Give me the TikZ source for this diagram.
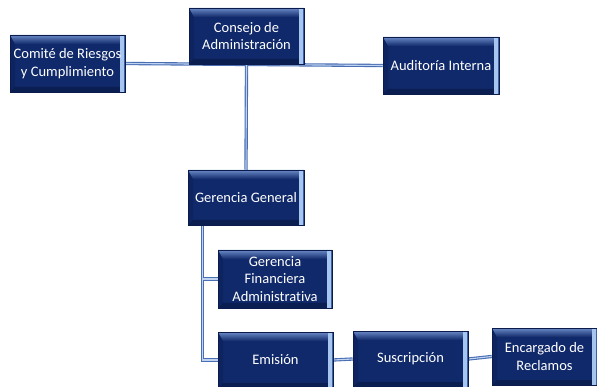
\documentclass[tikz,border=0pt]{standalone}
\usepackage{fontspec}
\setmainfont{Carlito}[Ligatures={NoCommon}]
\usetikzlibrary{backgrounds,calc}
\definecolor{navy}{HTML}{10296A}
\definecolor{bevtop}{HTML}{6A89C6}
\definecolor{bevright}{HTML}{A6C6F0}
\definecolor{bevbot}{HTML}{0A1E52}
\definecolor{bevleft}{HTML}{0D2460}
\definecolor{edge}{HTML}{0B1C4C}
\definecolor{linecol}{HTML}{4A6EB4}
\definecolor{lineinner}{HTML}{BFD2F0}
\tikzset{
  x=1pt, y=-1pt,
  orgbox/.style={fill=navy, draw=edge, line width=0.5pt, text=white, align=center,
    inner sep=0pt, font=\fontsize{14.5}{17.5}\selectfont,
    path picture={
      \fill[bevleft] (path picture bounding box.north west) -- ([xshift=5pt,yshift=-7pt]path picture bounding box.north west)
        -- ([xshift=5pt,yshift=5pt]path picture bounding box.south west) -- (path picture bounding box.south west) -- cycle;
      \fill[bevbot] (path picture bounding box.south west) -- ([xshift=5pt,yshift=5pt]path picture bounding box.south west)
        -- ([xshift=-5pt,yshift=5pt]path picture bounding box.south east) -- (path picture bounding box.south east) -- cycle;
      \shade[top color=bevtop, bottom color=navy] (path picture bounding box.north west) -- (path picture bounding box.north east)
        -- ([xshift=-5pt,yshift=-9pt]path picture bounding box.north east) -- ([xshift=5pt,yshift=-9pt]path picture bounding box.north west) -- cycle;
      \fill[bevright] ([xshift=-5pt]path picture bounding box.north east) rectangle (path picture bounding box.south east);
      \fill[linecol!80!navy] ([xshift=-1.2pt]path picture bounding box.north east) rectangle (path picture bounding box.south east);
    }},
  conn/.style={draw=linecol, line width=1.1pt, double=lineinner, double distance=1.1pt}
}
\begin{document}
\begin{tikzpicture}
\useasboundingbox (0,0) rectangle (597,387);
\node[orgbox, minimum width=115pt, minimum height=56pt] (con) at (246.5,36) {Consejo de\\Administración};
\node[orgbox, minimum width=115pt, minimum height=57pt] (com) at (67.5,63.5) {Comité de Riesgos\\y Cumplimiento};
\node[orgbox, minimum width=116pt, minimum height=57pt] (aud) at (441,65.5) {Auditoría Interna};
\node[orgbox, minimum width=116pt, minimum height=55pt] (gg) at (246,197.5) {Gerencia General};
\node[orgbox, minimum width=114pt, minimum height=58pt] (gf) at (275,279) {Gerencia\\Financiera\\Administrativa};
\node[orgbox, minimum width=115pt, minimum height=56pt] (emi) at (275.5,360) {Emisión};
\node[orgbox, minimum width=115pt, minimum height=56pt] (sus) at (410.5,359) {Suscripción};
\node[orgbox, minimum width=105pt, minimum height=57pt] (enc) at (544.5,356.5) {Encargado de\\Reclamos};
\begin{scope}[on background layer]
  \draw[conn] (com.east) -- (aud.west);
  \draw[conn] (con.south) -- (gg.north);
  \coordinate (trunk) at ([xshift=15pt]gg.south west);
  \draw[conn] (trunk) |- (emi.west);
  \draw[conn] (trunk |- gf.west) -- (gf.west);
  \draw[conn] (emi.east) -- (sus.west);
  \draw[conn] (sus.east) -- (enc.west);
\end{scope}
\end{tikzpicture}
\end{document}
